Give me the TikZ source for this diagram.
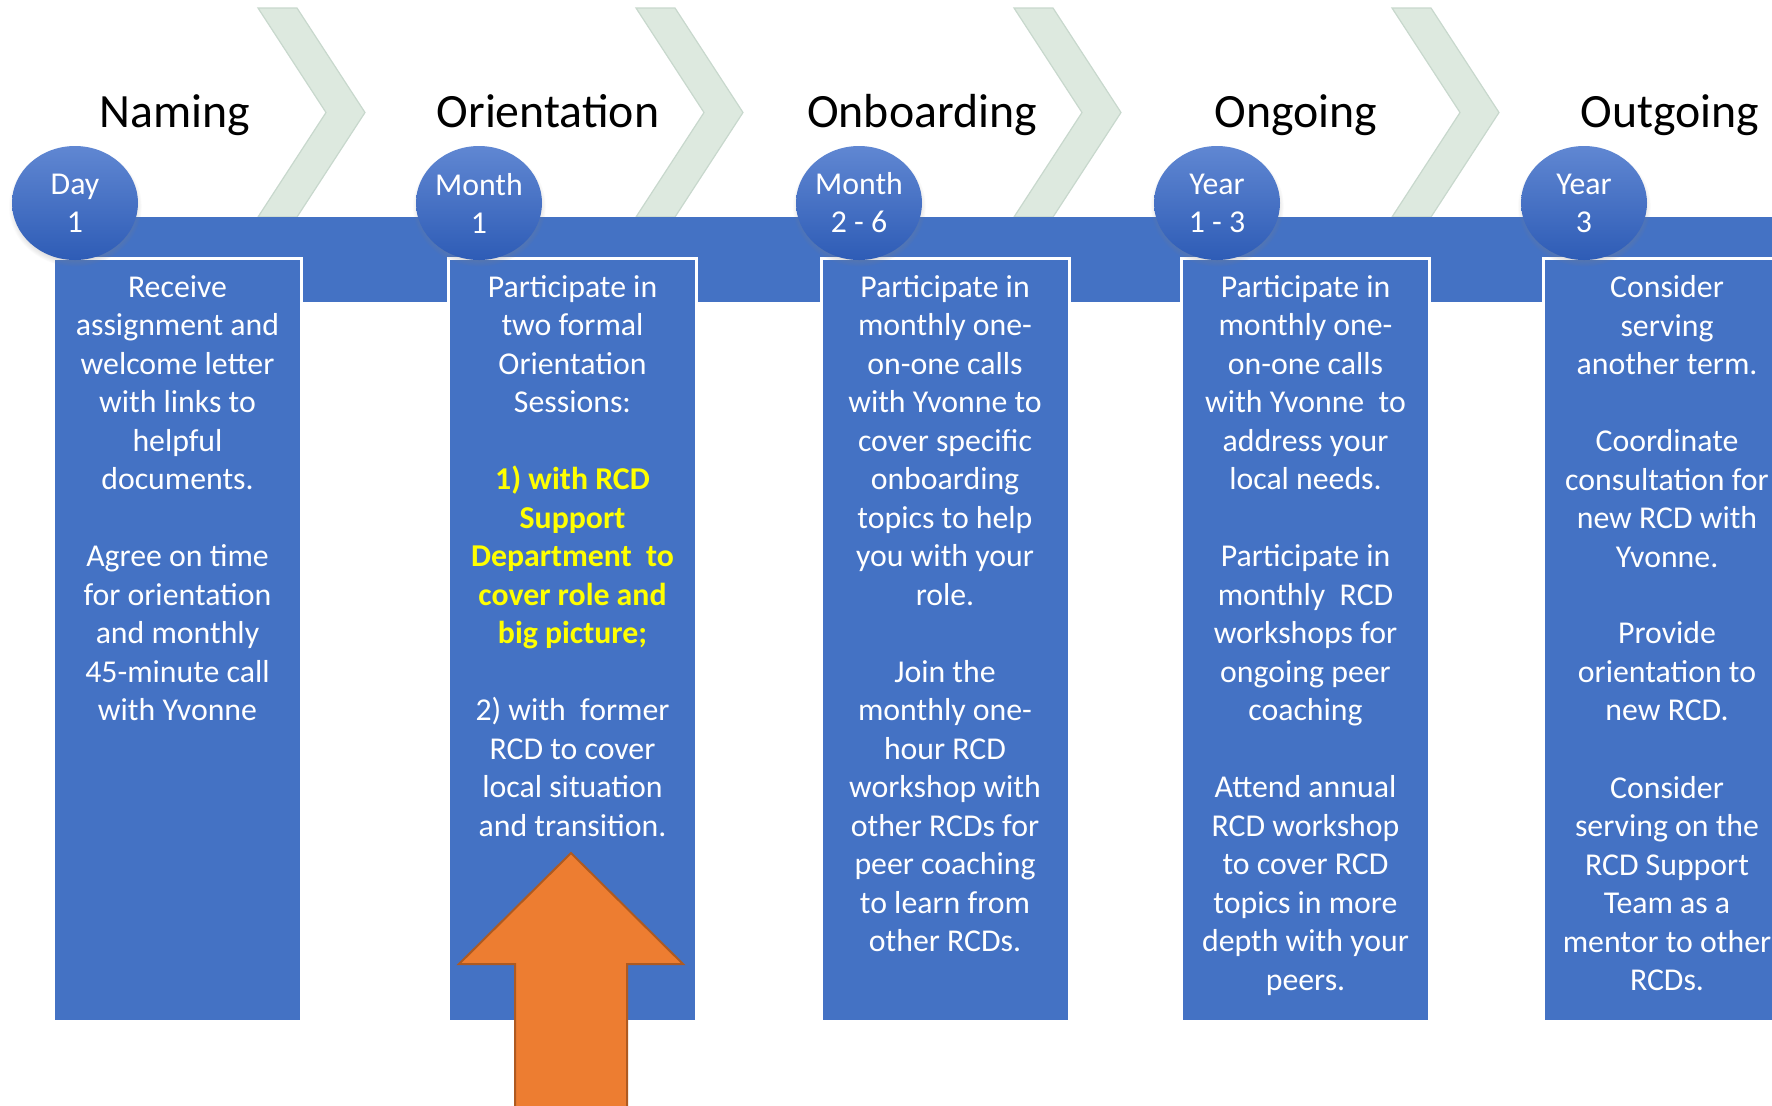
\documentclass[tikz,border=0pt]{standalone}
\usepackage{fontspec}
\setmainfont{Carlito}
\usetikzlibrary{positioning}
\usetikzlibrary{shapes}
\usetikzlibrary{shadows}
\definecolor{stageblue}{RGB}{68,114,196}
\definecolor{chevrongreen}{RGB}{221,233,223}
\definecolor{chevronedge}{RGB}{200,216,205}
\definecolor{badgetop}{RGB}{96,135,210}
\definecolor{badgebottom}{RGB}{46,92,182}
\definecolor{arroworange}{RGB}{237,125,49}
\definecolor{arrowedge}{RGB}{174,90,33}
\definecolor{hilite}{RGB}{255,255,0}
\newcommand{\hl}[1]{{\bfseries\color{hilite}#1}}

\begin{document}
\begin{tikzpicture}
                [
                    x=0.5pt, y=-0.5pt,
                    chevron/.style = {fill=chevrongreen, draw=chevronedge, line width=0.6pt},
                    stagebox/.style = {rectangle, fill=stageblue, draw=white, line width=1.5pt, inner sep=0pt, minimum width=124pt, minimum height=381.25pt},
                    stagetext/.style = {inner sep=0pt, align=center, text=white, font=\fontsize{15.9}{19.25}\selectfont},
                    badge/.style = {ellipse, inner sep=0pt, minimum width=63pt, minimum height=57pt, top color=badgetop, bottom color=badgebottom, text=white, align=center, font=\fontsize{15.9}{19}\selectfont, circular drop shadow={shadow xshift=0pt, shadow yshift=-1.5pt, opacity=0.35, shadow scale=1.06}},
                    title/.style = {anchor=base, font=\fontsize{23.9}{28}\selectfont}
                ]

                \useasboundingbox (0,0) rectangle (1772,1105);
                \clip (0,0) rectangle (1772,1105);

                % Pfeile im Hintergrund
                \draw[chevron] (258,8) -- (297,8) -- (365,112.5) -- (297,217) -- (258,217) -- (326,112.5) -- cycle;
                \draw[chevron] (636,8) -- (675,8) -- (743,112.5) -- (675,217) -- (636,217) -- (704,112.5) -- cycle;
                \draw[chevron] (1014,8) -- (1053,8) -- (1121,112.5) -- (1053,217) -- (1014,217) -- (1082,112.5) -- cycle;
                \draw[chevron] (1392,8) -- (1431,8) -- (1499,112.5) -- (1431,217) -- (1392,217) -- (1460,112.5) -- cycle;

                % Zeitleiste
                \fill[stageblue] (75,217) rectangle (1800,302);

                \node (namingbox) [stagebox] at (177.5,639.75) {};
                \node (orientationbox) [stagebox] at (572.5,639.75) {};
                \node (onboardingbox) [stagebox] at (945,639.75) {};
                \node (ongoingbox) [stagebox] at (1305.5,639.75) {};
                \node (outgoingbox) [stagebox] at (1667,639.75) {};

                \node (namingtext) [stagetext, below=9pt of namingbox.north] {Receive\\ assignment and\\ welcome letter\\ with links to\\ helpful\\ documents.\\[19.25pt] Agree on time\\ for orientation\\ and monthly\\ 45-minute call\\ with Yvonne};
                \node (orientationtext) [stagetext, below=9pt of orientationbox.north] {Participate in\\ two formal\\ Orientation\\ Sessions:\\[19.25pt] \hl{1) with RCD}\\ \hl{Support}\\ \hl{Department~ to}\\ \hl{cover role and}\\ \hl{big picture;}\\[19.25pt] 2) with~ former\\ RCD to cover\\ local situation\\ and transition.};
                \node (onboardingtext) [stagetext, below=9pt of onboardingbox.north] {Participate in\\ monthly one-\\ on-one calls\\ with Yvonne to\\ cover specific\\ onboarding\\ topics to help\\ you with your\\ role.\\[19.25pt] Join the\\ monthly one-\\ hour RCD\\ workshop with\\ other RCDs for\\ peer coaching\\ to learn from\\ other RCDs.};
                \node (ongoingtext) [stagetext, below=9pt of ongoingbox.north] {Participate in\\ monthly one-\\ on-one calls\\ with Yvonne~ to\\ address your\\ local needs.\\[19.25pt] Participate in\\ monthly~ RCD\\ workshops for\\ ongoing peer\\ coaching\\[19.25pt] Attend annual\\ RCD workshop\\ to cover RCD\\ topics in more\\ depth with your\\ peers.};
                \node (outgoingtext) [stagetext, below=9pt of outgoingbox.north] {Consider\\ serving\\ another term.\\[19.25pt] Coordinate\\ consultation for\\ new RCD with\\ Yvonne.\\[19.25pt] Provide\\ orientation to\\ new RCD.\\[19.25pt] Consider\\ serving on the\\ RCD Support\\ Team as a\\ mentor to other\\ RCDs.};

                % Hinweispfeil
                \draw[fill=arroworange, draw=arrowedge, line width=1pt] (571,853) -- (683,964) -- (627,964) -- (627,1120) -- (515,1120) -- (515,964) -- (459,964) -- cycle;

                \node (naming) [title] at (175,127) {Naming};
                \node (orientation) [title] at (548,127) {Orientation};
                \node (onboarding) [title] at (922,127) {Onboarding};
                \node (ongoing) [title] at (1296,127) {Ongoing};
                \node (outgoing) [title] at (1670,127) {Outgoing};

                \node (day) [badge] at (75,203) {Day\\ 1};
                \node (monthone) [badge] at (479,203) {Month\\ 1};
                \node (monthtwo) [badge] at (859,203) {Month\\ 2 - 6};
                \node (yearone) [badge] at (1217,203) {Year\\ 1 - 3};
                \node (yearthree) [badge] at (1584,203) {Year\\ 3};

            \end{tikzpicture}
\end{document}
